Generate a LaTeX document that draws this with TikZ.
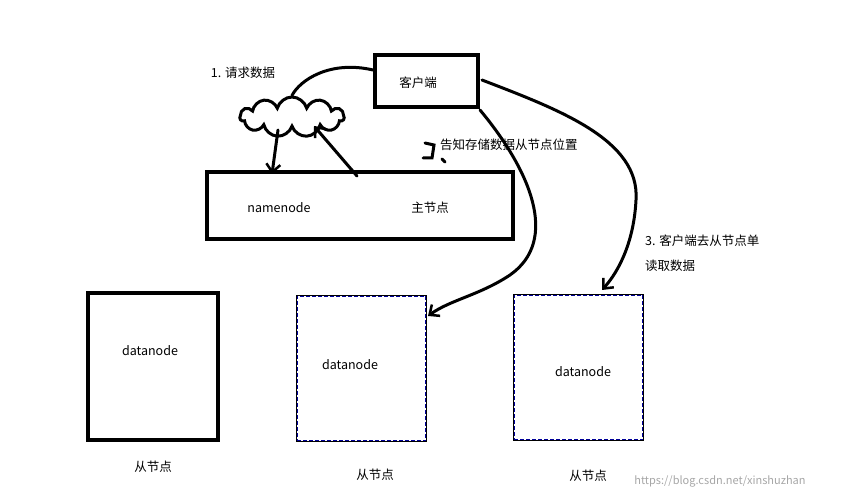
\documentclass[tikz,border=0pt]{standalone}
\usepackage{fontspec}
\setmainfont{Noto Sans CJK SC}
\usetikzlibrary{shapes.symbols,arrows.meta}
\begin{document}
\begin{tikzpicture}[x=1pt,y=-1pt,
  box/.style={draw,line width=4pt},
  dbox/.style={draw=blue!60!black,line width=1.6pt,dash pattern=on 4pt off 2pt},
  t/.style={font=\fontsize{12.5}{15}\selectfont,inner sep=0pt},
  pen/.style={line width=3pt,line cap=round},
  ar/.style={pen,-{Straight Barb[length=8pt,width=14pt,line width=2.5pt]}}]
\useasboundingbox (0,0) rectangle (848,502);
\node[box,minimum width=103pt,minimum height=52pt] (client) at (426.5,81) {};
\node[t] at (418,83) {客户端};
\node[box,minimum width=306pt,minimum height=67pt] (nn) at (360,205.5) {};
\node[t] at (279,208) {namenode};
\node[t] at (430,208) {主节点};
\node[box,minimum width=130pt,minimum height=147pt] (d1) at (153,366.5) {};
\node[dbox,minimum width=129pt,minimum height=145pt] (d2) at (361.5,368.5) {};
\node[dbox,minimum width=129pt,minimum height=145pt] (d3) at (578.5,367.5) {};
\draw[draw=black,line width=0.8pt] (d2.north west) rectangle (d2.south east);
\draw[draw=black,line width=0.8pt] (d3.north west) rectangle (d3.south east);
\node[t] at (150,351) {datanode};
\node[t] at (350,365) {datanode};
\node[t] at (583,372) {datanode};
\node[t] at (153,467) {从节点};
\node[t] at (375,475) {从节点};
\node[t] at (588,476) {从节点};
\node[t] at (243,73) {1. 请求数据};
\node[t,anchor=west] at (440,145) {告知存储数据从节点位置};
\node[t,anchor=west] at (645,241) {3. 客户端去从节点单};
\node[t,anchor=west] at (645,266) {读取数据};
\node[t,text=black!35,font=\fontsize{11}{13}\selectfont] at (720,481) {https://blog.csdn.net/xinshuzhan};
\node[cloud,draw,line width=3pt,cloud puffs=11,minimum width=104pt,minimum height=40pt,aspect=2.6] (cl) at (292,117) {};
\coordinate (c1) at (373,70);
\draw[pen] (c1) .. controls (330,60) and (300,80) .. (cl.north);
\draw[ar] (278,130) -- (272,174);
\draw[ar] (357,176) -- (314,126);
\draw[pen] (425,143) -- (434,145) -- (432,158) -- (423,158);
\draw[pen] (442,159) -- (445,162);
\draw[ar] (480,110) .. controls (530,170) and (560,240) .. (510,275) .. controls (480,295) and (450,300) .. (428,316);
\draw[ar] (482,80) .. controls (560,110) and (640,140) .. (636,200) .. controls (634,240) and (620,270) .. (602,290);
\end{tikzpicture}
\end{document}
